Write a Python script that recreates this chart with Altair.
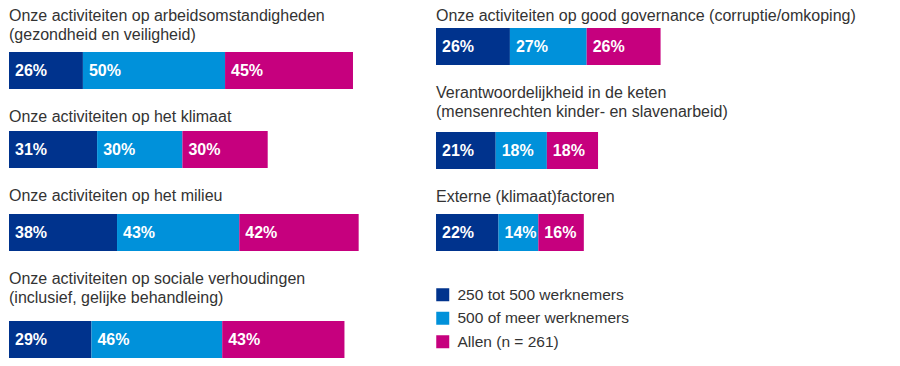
import altair as alt
import pandas as pd

series = ["250 tot 500 werknemers", "500 of meer werknemers", "Allen (n = 261)"]
colors = ["#00338D", "#0091DA", "#C6007E"]

left_titles = [
    ["Onze activiteiten op arbeidsomstandigheden", "(gezondheid en veiligheid)"],
    ["Onze activiteiten op het klimaat"],
    ["Onze activiteiten op het milieu"],
    ["Onze activiteiten op sociale verhoudingen", "(inclusief, gelijke behandleing)"],
]
left_values = [
    [26, 50, 45],
    [31, 30, 30],
    [38, 43, 42],
    [29, 46, 43],
]
right_titles = [
    ["Onze activiteiten op good governance (corruptie/omkoping)"],
    ["Verantwoordelijkheid in de keten", "(mensenrechten kinder- en slavenarbeid)"],
    ["Externe (klimaat)factoren"],
]
right_values = [
    [26, 27, 26],
    [21, 18, 18],
    [22, 14, 16],
]

FONT = "Liberation Sans"
W = 398
DOMAIN_MAX = 140
BAR_H = 37

legend = alt.Legend(
    orient="none", legendX=426, legendY=259, title=None,
    symbolType="square", symbolSize=169, symbolStrokeWidth=0, symbolOpacity=1,
    labelFontSize=15.5, labelFont=FONT, labelColor="#333333", labelOffset=7,
    labelLimit=400, rowPadding=6.5, padding=0,
)


def panel(title_lines, vals, offset, top_gap=0):
    df = pd.DataFrame({"serie": series, "value": vals, "order": [0, 1, 2], "row": "r"})
    base = alt.Chart(df).transform_stack(
        stack="value", groupby=["row"], as_=["v0", "v1"],
        sort=[alt.SortField("order", order="ascending")],
    ).transform_calculate(label="datum.value + '%'")
    xs = alt.Scale(domain=[0, DOMAIN_MAX])
    pad = top_gap / (2 * BAR_H)
    ys = alt.Scale(paddingInner=0, paddingOuter=pad, align=1)
    bars = base.mark_bar().encode(
        x=alt.X("v0:Q", scale=xs, axis=None),
        x2="v1:Q",
        y=alt.Y("row:N", axis=None, scale=ys),
        color=alt.Color("serie:N", scale=alt.Scale(domain=series, range=colors), legend=legend),
    )
    text = base.mark_text(
        align="left", dx=6, color="white", fontWeight="bold", fontSize=16, font=FONT
    ).encode(
        x=alt.X("v0:Q", scale=xs, axis=None),
        y=alt.Y("row:N", axis=None, scale=ys),
        text="label:N",
    )
    return alt.layer(bars, text).properties(
        width=W, height=BAR_H + top_gap,
        title=alt.TitleParams(
            text=title_lines, anchor="start", offset=offset, fontSize=16,
            font=FONT, fontWeight="normal", color="#333333", lineHeight=19,
        ),
    )


left_offsets = [-15, 6, 10, 15]
left_gaps = [24, 0, 0, 0]
right_offsets = [4, 12, 9]

left = alt.vconcat(
    *[panel(t, v, o, g) for t, v, o, g in zip(left_titles, left_values, left_offsets, left_gaps)],
    spacing=20,
)
right = alt.vconcat(
    *[panel(t, v, o) for t, v, o in zip(right_titles, right_values, right_offsets)],
    spacing=20,
)

chart = alt.hconcat(left, right, spacing=29).properties(
    padding={"left": 1, "top": 0, "right": 0, "bottom": 0}
).configure_view(stroke=None)

chart.save("out.html", embed_options={"renderer": "svg", "actions": False})
